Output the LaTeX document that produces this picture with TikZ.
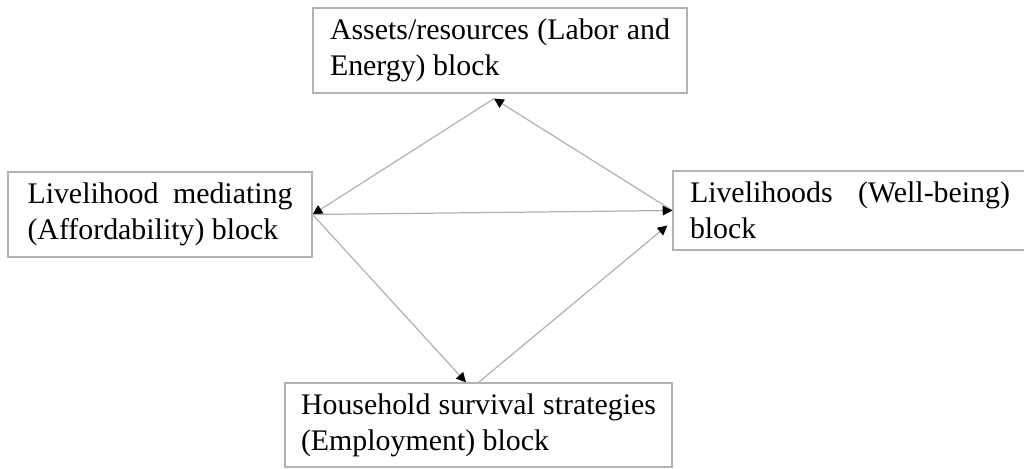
\documentclass[tikz,border=0pt]{standalone}
\usepackage{fontspec}
\setmainfont{Liberation Serif}
\usepackage{tikz}
\usetikzlibrary{positioning, calc, arrows.meta}

\begin{document}
\begin{tikzpicture}[
    block/.style={draw=gray!60, line width=0.7pt, inner xsep=0.34cm, inner ysep=0pt,
        align=justify, font=\fontsize{17}{20.5}\selectfont},
    link/.style={draw=gray!60, line width=0.7pt, -{Triangle[length=5.5pt,width=5.5pt,color=black]}}]
    % Frame of the picture
    \useasboundingbox (0,0) rectangle (20.48,9.38);

    % Blocks
    \node[block, text width=6.8cm, minimum height=1.7cm] (asset) at (10.0,8.37)
        {Assets/resources (Labor and\linebreak Energy) block};
    \node[block, text width=5.3cm, minimum height=1.7cm, inner xsep=0.39cm] (mediate) at (3.2,5.09)
        {Livelihood mediating\linebreak (Affordability) block};
    \node[block, text width=6.4cm, minimum height=1.58cm] (wellbeing) at (17.0,5.17)
        {Livelihoods (Well-being)\linebreak block};
    \node[block, text width=7.1cm, minimum height=1.68cm, inner xsep=0.32cm] (survival) at (9.57,0.88)
        {Household survival strategies\linebreak (Employment) block};

    % Links between the blocks
    \draw[link] ([xshift=-0.12cm,yshift=-0.1cm]asset.south) -- (mediate.east);
    \draw[link] (wellbeing.west) -- ([xshift=-0.12cm,yshift=-0.1cm]asset.south);
    \draw[link] (mediate.east) -- (wellbeing.west);
    \draw[link] (mediate.east) -- ([xshift=-0.25cm]survival.north);
    \draw[link] (survival.north) -- ([xshift=-0.1cm,yshift=-0.3cm]wellbeing.west);

\end{tikzpicture}
\end{document}
